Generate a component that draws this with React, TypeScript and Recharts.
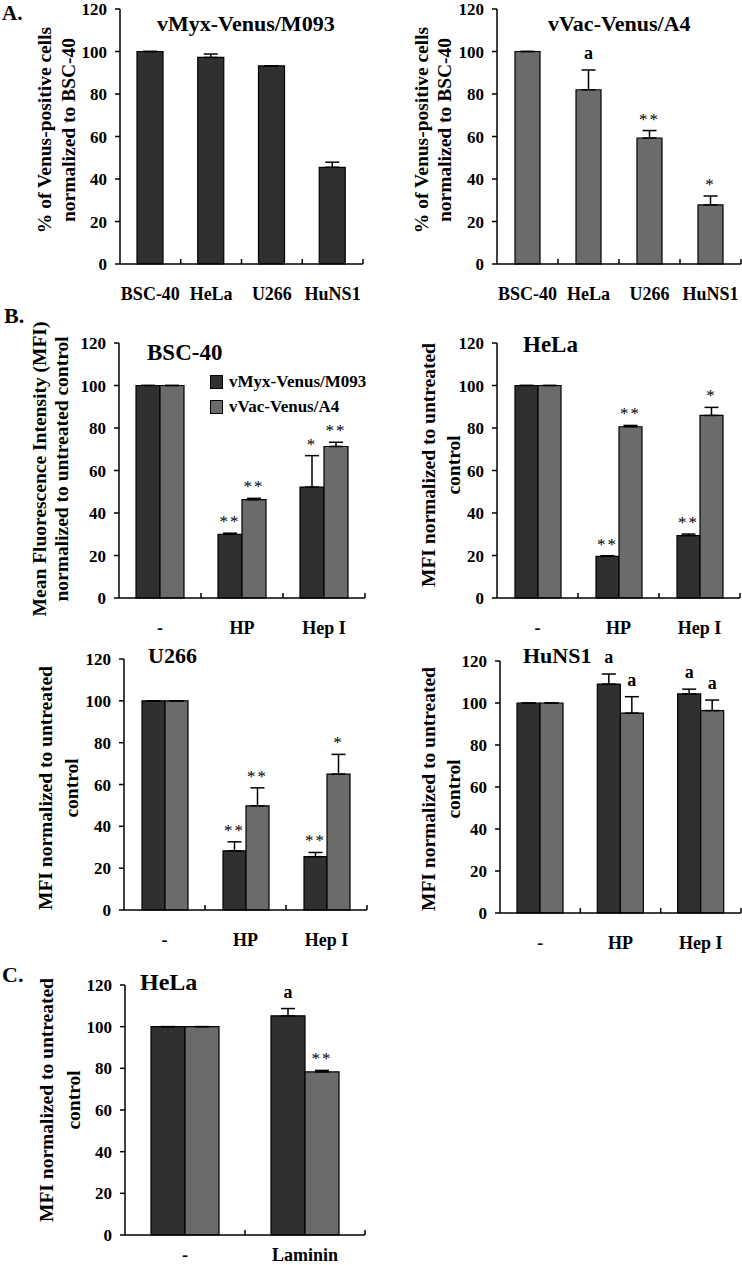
import React from "react";
import { BarChart, Bar, XAxis, YAxis, ErrorBar, LabelList, Legend } from "recharts";

const SERIF = '"Liberation Serif", "Times New Roman", Times, serif';
const DARK = "#303030";
const LIGHT = "#6b6b6b";
const Y_TICKS = [0, 20, 40, 60, 80, 100, 120];

// A. % of Venus-positive cells
const cellLines = ["BSC-40", "HeLa", "U266", "HuNS1"];
const myxPositive = [100, 97.2, 93.2, 45.5];
const myxPositiveErr = [0, 1.6, 0, 2.4];
const myxPositiveMarks = ["", "", "", ""];
const vacPositive = [100, 82, 59.3, 27.8];
const vacPositiveErr = [0, 9.3, 3.5, 4.2];
const vacPositiveMarks = ["", "a", "**", "*"];

// B. MFI after heparin treatments
const treatments = ["-", "HP", "Hep I"];
const bscMyx = [100, 30, 52.2];
const bscMyxErr = [0, 0.5, 14.8];
const bscMyxMarks = ["", "**", "*"];
const bscVac = [100, 46.3, 71.3];
const bscVacErr = [0, 0.6, 2];
const bscVacMarks = ["", "**", "**"];

const helaMyx = [100, 19.6, 29.4];
const helaMyxErr = [0, 0.3, 0.7];
const helaMyxMarks = ["", "**", "**"];
const helaVac = [100, 80.6, 85.9];
const helaVacErr = [0, 0.6, 3.8];
const helaVacMarks = ["", "**", "*"];

const u266Myx = [100, 28.3, 25.5];
const u266MyxErr = [0, 4.3, 2];
const u266MyxMarks = ["", "**", "**"];
const u266Vac = [100, 49.8, 65];
const u266VacErr = [0, 8.6, 9.4];
const u266VacMarks = ["", "**", "*"];

const hunsMyx = [100, 109, 104.3];
const hunsMyxErr = [0, 4.8, 2.3];
const hunsMyxMarks = ["", "a", "a"];
const hunsVac = [100, 95.2, 96.4];
const hunsVacErr = [0, 7.8, 5];
const hunsVacMarks = ["", "a", "a"];

// C. laminin
const lamininGroups = ["-", "Laminin"];
const lamMyx = [100, 105.2];
const lamMyxErr = [0, 3.5];
const lamMyxMarks = ["", "a"];
const lamVac = [100, 78.3];
const lamVacErr = [0, 0.7];
const lamVacMarks = ["", "**"];

type Series = {
  key: string;
  name: string;
  color: string;
  values: number[];
  errors: number[];
  marks: string[];
};

const Y_W = 60;
const M_TOP = 30;
const X_H = 45;

function CategoryTick(props: any) {
  const { x, y, payload, band, labelDy } = props;
  const edge = x + band / 2;
  return (
    <g>
      <line x1={edge} x2={edge} y1={y} y2={y - 5} stroke="#000" strokeWidth={1.5} />
      <text x={x} y={y + labelDy} textAnchor="middle" fontFamily={SERIF} fontWeight="bold" fontSize={18} fill="#000">
        {payload.value}
      </text>
    </g>
  );
}

function markContent(s: Series) {
  return (p: any) => {
    const i = p.index;
    const text = s.marks[i];
    if (!text) return null;
    const vb = p.viewBox ?? p;
    const x = Number(vb.x ?? p.x);
    const y = Number(vb.y ?? p.y);
    const w = Number(vb.width ?? p.width);
    const h = Number(vb.height ?? p.height);
    const perUnit = Math.abs(h) / s.values[i];
    const capY = Math.min(y, y + h) - s.errors[i] * perUnit;
    const star = text.includes("*");
    return (
      <text
        x={x + w / 2}
        y={capY - (star ? 6 : 11)}
        textAnchor="middle"
        fontFamily={SERIF}
        fontWeight={star ? "normal" : "bold"}
        fontSize={star ? 17 : 18}
        letterSpacing={star ? 2 : 0}
        fill="#000"
      >
        {text}
      </text>
    );
  };
}

function LegendBox(p: any) {
  return (
    <div>
      {(p.payload || []).map((item: any) => (
        <div key={item.value} style={{ display: "flex", alignItems: "center", height: 25 }}>
          <span
            style={{
              display: "inline-block",
              width: 11,
              height: 12,
              background: item.color,
              border: "1px solid #000",
              marginRight: 6,
              flex: "none",
            }}
          />
          <span style={{ fontFamily: SERIF, fontWeight: "bold", fontSize: 17, color: "#000" }}>{item.value}</span>
        </div>
      ))}
    </div>
  );
}

function Panel({
  categories,
  series,
  axisX,
  xEnd,
  yTop,
  yZero,
  barSize,
  labelDy = 36,
  legend,
}: {
  categories: string[];
  series: Series[];
  axisX: number;
  xEnd: number;
  yTop: number;
  yZero: number;
  barSize: number;
  labelDy?: number;
  legend?: { left: number; top: number; width: number };
}) {
  const left = axisX - Y_W;
  const top = yTop - M_TOP;
  const width = xEnd - left + 2;
  const height = yZero - top + X_H;
  const band = (xEnd - axisX) / categories.length;
  const rows = categories.map((c, i) => {
    const r: Record<string, any> = { name: c };
    series.forEach((s) => {
      r[s.key] = s.values[i];
      r[s.key + "Err"] = [0, s.errors[i]];
      r[s.key + "Mark"] = s.marks[i];
    });
    return r;
  });

  return (
    <div style={{ position: "absolute", left, top }}>
      <BarChart
        width={width}
        height={height}
        data={rows}
        margin={{ top: M_TOP, right: 2, bottom: 0, left: 0 }}
        barGap={0}
        barSize={barSize}
      >
        <XAxis
          dataKey="name"
          height={X_H}
          interval={0}
          tickLine={false}
          tickSize={0}
          tickMargin={0}
          axisLine={{ stroke: "#000", strokeWidth: 1.5 }}
          tick={(p: any) => <CategoryTick {...p} band={band} labelDy={labelDy} />}
        />
        <YAxis
          width={Y_W}
          domain={[0, 120]}
          ticks={Y_TICKS}
          interval={0}
          tickSize={5}
          tickMargin={8}
          axisLine={{ stroke: "#000", strokeWidth: 1.5 }}
          tickLine={{ stroke: "#000", strokeWidth: 1.5 }}
          tick={{ fontFamily: SERIF, fontWeight: "bold", fontSize: 17, fill: "#000" }}
        />
        {legend && (
          <Legend
            layout="vertical"
            align="center"
            verticalAlign="middle"
            content={LegendBox}
            wrapperStyle={{
              left: legend.left,
              top: legend.top,
              width: legend.width,
              whiteSpace: "nowrap",
            }}
          />
        )}
        {series.map((s) => (
          <Bar
            key={s.key}
            dataKey={s.key}
            name={s.name}
            fill={s.color}
            stroke="#000"
            strokeWidth={1.2}
            isAnimationActive={false}
          >
            <ErrorBar dataKey={s.key + "Err"} width={7} stroke="#000" strokeWidth={1.5} direction="y" />
            <LabelList dataKey={s.key + "Mark"} content={markContent(s)} />
          </Bar>
        ))}
      </BarChart>
    </div>
  );
}

const MYX = "vMyx-Venus/M093";
const VAC = "vVac-Venus/A4";

const pair = (
  m: number[], me: number[], mm: string[],
  v: number[], ve: number[], vm: string[]
): Series[] => [
  { key: "myx", name: MYX, color: DARK, values: m, errors: me, marks: mm },
  { key: "vac", name: VAC, color: LIGHT, values: v, errors: ve, marks: vm },
];

function YTitle({ x1, x2, cy, lines }: { x1: number; x2: number; cy: number; lines: string[] }) {
  return (
    <g fontFamily={SERIF} fontWeight="bold" fontSize={19.5} fill="#000">
      {lines.map((t, i) => (
        <text
          key={t}
          transform={`translate(${i === 0 ? x1 : x2},${cy}) rotate(-90)`}
          textAnchor="middle"
          dominantBaseline="central"
        >
          {t}
        </text>
      ))}
    </g>
  );
}

export default function App() {
  return (
    <div
      style={{
        position: "absolute",
        left: 0,
        top: 0,
        width: 742,
        height: 1265,
        overflow: "hidden",
        background: "#fff",
      }}
    >
      <Panel
        categories={cellLines}
        series={[{ key: "myx", name: MYX, color: DARK, values: myxPositive, errors: myxPositiveErr, marks: myxPositiveMarks }]}
        axisX={120} xEnd={363} yTop={9} yZero={264} barSize={26}
      />
      <Panel
        categories={cellLines}
        series={[{ key: "vac", name: VAC, color: LIGHT, values: vacPositive, errors: vacPositiveErr, marks: vacPositiveMarks }]}
        axisX={497} xEnd={741} yTop={9} yZero={264} barSize={25}
      />
      <Panel
        categories={treatments}
        series={pair(bscMyx, bscMyxErr, bscMyxMarks, bscVac, bscVacErr, bscVacMarks)}
        axisX={119} xEnd={365} yTop={343} yZero={598} barSize={24}
        legend={{ left: 151, top: 56, width: 150 }}
      />
      <Panel
        categories={treatments}
        series={pair(helaMyx, helaMyxErr, helaMyxMarks, helaVac, helaVacErr, helaVacMarks)}
        axisX={497} xEnd={740} yTop={343} yZero={598} barSize={23}
      />
      <Panel
        categories={treatments}
        series={pair(u266Myx, u266MyxErr, u266MyxMarks, u266Vac, u266VacErr, u266VacMarks)}
        axisX={124} xEnd={367} yTop={659} yZero={910} barSize={23}
      />
      <Panel
        categories={treatments}
        series={pair(hunsMyx, hunsMyxErr, hunsMyxMarks, hunsVac, hunsVacErr, hunsVacMarks)}
        axisX={500} xEnd={741} yTop={661} yZero={913} barSize={23}
      />
      <Panel
        categories={lamininGroups}
        series={pair(lamMyx, lamMyxErr, lamMyxMarks, lamVac, lamVacErr, lamVacMarks)}
        axisX={125} xEnd={365} yTop={985} yZero={1235} barSize={34}
        labelDy={26}
      />

      <svg
        width={742}
        height={1265}
        style={{ position: "absolute", left: 0, top: 0, pointerEvents: "none" }}
      >
        <g fontFamily={SERIF} fontWeight="bold" fill="#000">
          <text x={2} y={20} fontSize={21}>A.</text>
          <text x={157} y={31} fontSize={22}>vMyx-Venus/M093</text>
          <text x={548} y={31} fontSize={22}>vVac-Venus/A4</text>
          <text x={4} y={323} fontSize={22}>B.</text>
          <text x={147} y={360} fontSize={23}>BSC-40</text>
          <text x={523} y={352} fontSize={23}>HeLa</text>
          <text x={148} y={663} fontSize={22}>U266</text>
          <text x={523} y={663} fontSize={22}>HuNS1</text>
          <text x={2} y={982} fontSize={22}>C.</text>
          <text x={140} y={990} fontSize={24}>HeLa</text>
        </g>
        <YTitle x1={44.5} x2={68.5} cy={130} lines={["% of Venus-positive cells", "normalized to BSC-40"]} />
        <YTitle x1={421} x2={444} cy={130} lines={["% of Venus-positive cells", "normalized to BSC-40"]} />
        <YTitle x1={39.5} x2={61.5} cy={469} lines={["Mean Fluorescence Intensity (MFI)", "normalized to untreated control"]} />
        <YTitle x1={428} x2={453} cy={465} lines={["MFI normalized to untreated", "control"]} />
        <YTitle x1={45} x2={71} cy={788} lines={["MFI normalized to untreated", "control"]} />
        <YTitle x1={428} x2={453} cy={789} lines={["MFI normalized to untreated", "control"]} />
        <YTitle x1={46} x2={73} cy={1100} lines={["MFI normalized to untreated", "control"]} />
      </svg>
    </div>
  );
}
